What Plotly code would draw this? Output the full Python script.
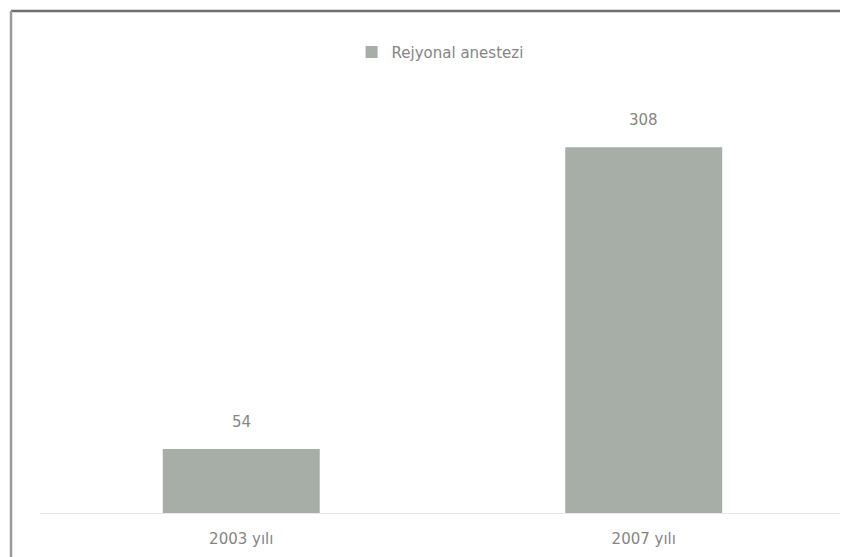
import plotly.graph_objects as go

categories = ["2003 yılı", "2007 yılı"]
values = [54, 308]
series_name = "Rejyonal anestezi"

bar_color = "#a6aea7"
text_color = "#858585"

fig = go.Figure()
fig.add_trace(go.Bar(
    x=categories, y=values, name=series_name,
    marker=dict(color=bar_color, line=dict(width=0)),
    width=0.39, showlegend=True,
))

for c, v in zip(categories, values):
    fig.add_annotation(x=c, y=v, text=str(v), showarrow=False,
                       yanchor="bottom", yshift=16,
                       font=dict(size=15, color=text_color))

fig.add_shape(type="line", xref="paper", yref="paper",
              x0=-0.036, x1=1.02, y0=1.057, y1=1.057,
              line=dict(color="#707070", width=2.5))
fig.add_shape(type="line", xref="paper", yref="paper",
              x0=-0.036, x1=-0.036, y0=-0.12, y1=1.057,
              line=dict(color="#9a9a9a", width=2.5))

fig.update_layout(
    width=848, height=557,
    margin=dict(l=32, r=11, t=30, b=52),
    paper_bgcolor="white", plot_bgcolor="white",
    font=dict(family="DejaVu Sans, Liberation Sans, sans-serif", color=text_color, size=15),
    legend=dict(orientation="h", x=0.497, xanchor="center", y=1.005, yanchor="top",
                font=dict(size=15, color=text_color), itemwidth=30),
    xaxis=dict(showline=True, linecolor="#e8e8e8", linewidth=1, showgrid=False,
               ticks="", ticklabelstandoff=12, tickfont=dict(size=15, color=text_color)),
    yaxis=dict(range=[0, 400], showgrid=False, showticklabels=False, zeroline=False,
               showline=False),
    bargap=0.61,
)

fig.write_html("out.html")
